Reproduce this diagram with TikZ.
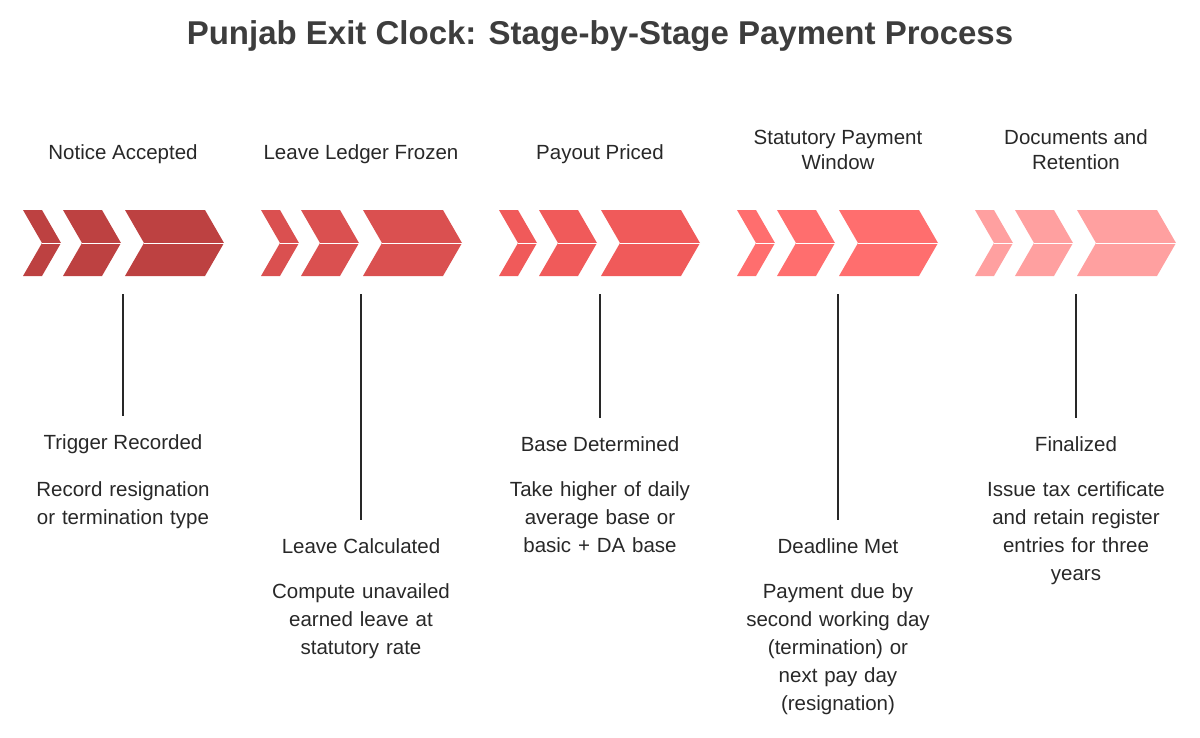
\documentclass[tikz,border=0pt]{standalone}
\usepackage{fontspec}
\setmainfont{Liberation Sans}
\definecolor{stA}{RGB}{189,65,65}
\definecolor{stB}{RGB}{218,80,80}
\definecolor{stC}{RGB}{240,90,90}
\definecolor{stD}{RGB}{255,110,110}
\definecolor{stE}{RGB}{255,160,160}
\definecolor{ink}{RGB}{40,40,40}
\tikzset{
  head/.style={align=center,text=ink,font=\fontsize{20.5}{25}\selectfont,inner sep=0pt},
  body/.style={align=center,text=ink,font=\fontsize{20.5}{28}\selectfont,inner sep=0pt,text width=220pt},
  stem/.style={draw=ink,line width=1.2pt}
}
\begin{document}
\begin{tikzpicture}[x=1pt,y=-1pt]
            \useasboundingbox(0,0)rectangle(1200,737);
            \node[font=\bfseries\fontsize{33}{38}\selectfont,text=ink!90]at(600,36){Punjab Exit Clock: Stage-by-Stage Payment Process};
            % chevrons
            \foreach \g/\c in {23/stA,261/stB,499/stC,737/stD,975/stE}{
              \foreach \a/\b in {0/19,40/79,102/182}{
                \fill[\c](\g+\a,210)--(\g+\b,210)--(\g+\b+19,243)--(\g+\b,276)--(\g+\a,276)--(\g+\a+19,243)--cycle;
                \draw[white,line width=0.8pt](\g+\a+19,243)--(\g+\b+19,243);
              }
            }
            % headers
            \node[head](h1)at(123,154){Notice Accepted};
            \node[head](h2)at(361,154){Leave Ledger Frozen};
            \node[head](h3)at(600,154){Payout Priced};
            \node[head](h4)at(838,150){Statutory Payment\\Window};
            \node[head](h5)at(1076,150){Documents and\\Retention};
            % stems
            \coordinate(s1)at(123,294);\coordinate(s2)at(361,294);\coordinate(s3)at(600,294);
            \coordinate(s4)at(838,294);\coordinate(s5)at(1076,294);
            \node[head](t1)at(123,444){Trigger Recorded};
            \node[head](t2)at(361,546){Leave Calculated};
            \node[head](t3)at(600,444){Base Determined};
            \node[head](t4)at(838,546){Deadline Met};
            \node[head](t5)at(1076,444){Finalized};
            \draw[stem](s1)--([yshift=18pt]t1.north);\draw[stem](s2)--([yshift=18pt]t2.north);
            \draw[stem](s3)--([yshift=18pt]t3.north);\draw[stem](s4)--([yshift=18pt]t4.north);
            \draw[stem](s5)--([yshift=18pt]t5.north);
            % descriptions
            \node[body,anchor=north](d1)at(123,481){Record resignation\\or termination type};
            \node[body,anchor=north](d2)at(361,583){Compute unavailed\\earned leave at\\statutory rate};
            \node[body,anchor=north](d3)at(600,481){Take higher of daily\\average base or\\basic + DA base};
            \node[body,anchor=north](d4)at(838,583){Payment due by\\second working day\\(termination) or\\next pay day\\(resignation)};
            \node[body,anchor=north](d5)at(1076,481){Issue tax certificate\\and retain register\\entries for three\\years};
        \end{tikzpicture}
\end{document}
